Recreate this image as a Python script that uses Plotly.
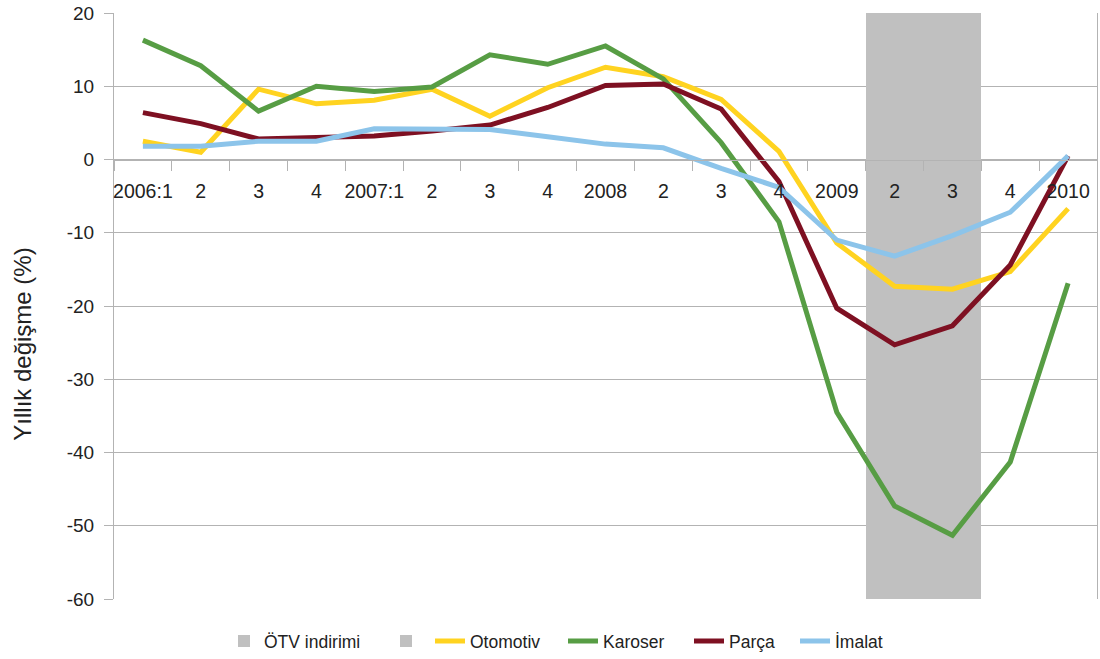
import numpy as np
import plotly.graph_objects as go

quarters = ["2006:1", "2", "3", "4", "2007:1", "2", "3", "4",
            "2008", "2", "3", "4", "2009", "2", "3", "4", "2010"]

otomotiv = [2.5, 1.0, 9.6, 7.6, 8.1, 9.6, 5.9, 9.8, 12.6, 11.3, 8.2, 1.1,
            -11.4, -17.3, -17.7, -15.3, -6.7]
karoser = [16.3, 12.8, 6.6, 10.0, 9.3, 9.9, 14.3, 13.0, 15.5, 11.0, 2.3, -8.5,
           -34.5, -47.3, -51.3, -41.3, -16.9]
parca = [6.4, 4.9, 2.8, 3.0, 3.2, 3.9, 4.7, 7.1, 10.1, 10.3, 6.9, -3.0,
         -20.3, -25.3, -22.7, -14.4, 0.5]
imalat = [1.8, 1.8, 2.5, 2.5, 4.2, 4.2, 4.1, 3.1, 2.1, 1.6, -1.2, -3.8,
          -11.0, -13.2, -10.4, -7.2, 0.5]

# ÖTV indirimi band (two bars, up to 20 and down to -60)
otv_ust = [0] * 13 + [20, 20] + [0, 0]
otv_alt = [0] * 13 + [-60, -60] + [0, 0]

y_ticks = [20, 10, 0, -10, -20, -30, -40, -50, -60]

x = list(range(len(quarters)))

# plot area in pixels, used to place each legend entry like the original
L, R, T, B = 114, 3, 13, 60
plot_w = 1100 - L - R
legend_px = [224, 386, 430, 563, 689, 795]
legend_ids = ["legend"] + ["legend%d" % i for i in range(2, 7)]

fig = go.Figure()
fig.add_trace(go.Bar(x=x, y=otv_ust, name="ÖTV indirimi", marker_color="#C0C0C0",
                     marker_line_width=0, width=1, legend=legend_ids[0]))
fig.add_trace(go.Bar(x=x, y=otv_alt, name=" ", marker_color="#C0C0C0",
                     marker_line_width=0, width=1, legend=legend_ids[1]))

series = [("Otomotiv", otomotiv, "#FFD320"),
          ("Karoser", karoser, "#579D44"),
          ("Parça", parca, "#7E1022"),
          ("İmalat", imalat, "#8CC4EA")]
for i, (name, vals, col) in enumerate(series):
    fig.add_trace(go.Scatter(x=x, y=vals, name=name, mode="lines",
                             line=dict(color=col, width=5), legend=legend_ids[i + 2]))

grid = "#B3B3B3"
fig.update_layout(
    width=1100, height=659,
    showlegend=True,
    plot_bgcolor="white", paper_bgcolor="white",
    font=dict(family="Liberation Sans, Arial, sans-serif", size=19, color="#222222"),
    barmode="relative", bargap=0,
    margin=dict(l=L, r=R, t=T, b=B, autoexpand=False),
    xaxis=dict(
        range=[-0.5, len(quarters) - 0.5],
        tickvals=x, ticktext=quarters, ticks="",
        anchor="free", position=0.75,
        showgrid=False, zeroline=False, automargin=False,
        showline=True, linecolor=grid, linewidth=1,
        minor=dict(tickvals=list(np.arange(-0.5, len(quarters), 1.0)),
                   ticks="outside", ticklen=10, tickcolor=grid, showgrid=False),
        tickfont=dict(size=19.5), ticklabelstandoff=14,
    ),
    yaxis=dict(
        range=[-60, 20], tickvals=y_ticks, ticktext=[str(v) for v in y_ticks],
        showgrid=True, gridcolor=grid, gridwidth=1,
        zeroline=False, automargin=False,
        showline=True, linecolor=grid, mirror=True,
        ticks="outside", ticklen=9, tickcolor=grid,
        tickfont=dict(size=19), ticklabelstandoff=6,
    ),
    annotations=[dict(text="Yıllık değişme (%)", textangle=-90, showarrow=False,
                      xref="paper", yref="paper", x=-0.094, y=0.435,
                      xanchor="center", yanchor="middle", font=dict(size=24))],
)

for lid, px in zip(legend_ids, legend_px):
    fig.update_layout({lid: dict(orientation="h", x=(px - L) / plot_w, xanchor="left",
                                 y=-0.072, yanchor="middle", font=dict(size=17.5),
                                 itemwidth=30, bgcolor="rgba(0,0,0,0)", visible=True)})

fig.write_html("out.html", config={"displayModeBar": False},
               post_script="document.body.style.margin='0';")
